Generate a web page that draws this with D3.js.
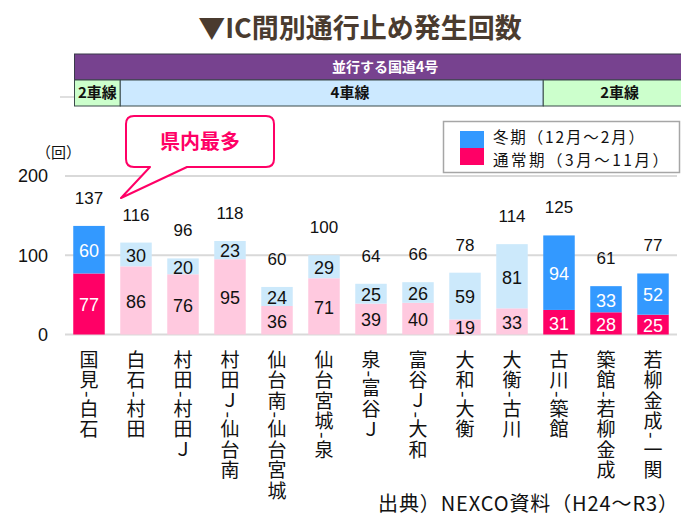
<!DOCTYPE html>
<html>
<head>
<meta charset="utf-8">
<script src="https://cdn.jsdelivr.net/npm/d3@7"></script>
<style>
  body { margin: 0; background: #fff; }
  svg { display: block; }
</style>
</head>
<body>
<div id="chart"></div>
<script>
// data
const categories = [
  "国見-白石", "白石-村田", "村田-村田Ｊ", "村田Ｊ-仙台南", "仙台南-仙台宮城",
  "仙台宮城-泉", "泉-富谷Ｊ", "富谷Ｊ-大和", "大和-大衡", "大衡-古川",
  "古川-築館", "築館-若柳金成", "若柳金成-一関"
];
const winter = [60, 30, 20, 23, 24, 29, 25, 26, 59, 81, 94, 33, 52];
const normal = [77, 86, 76, 95, 36, 71, 39, 40, 19, 33, 31, 28, 25];
const highlighted = [true, false, false, false, false, false, false, false, false, false, true, true, true];
const yTicks = [0, 100, 200];
const seriesNames = ["冬期（12月～2月）", "通常期（3月～11月）"];
// lane header: [label, first category index, last category index]
const laneSegments = [["2車線", 0, 0], ["4車線", 1, 9], ["2車線", 10, 12]];

const W = 681, H = 521;
const COLORS = {
  winter: "#3399ff", normal: "#ff0066",
  winterLight: "#cce9fb", normalLight: "#ffc9df"
};

const svg = d3.select("#chart").append("svg")
  .attr("width", W).attr("height", H)
  .attr("font-family", "'Liberation Sans', Arial, sans-serif");

const rows = categories.map((c, i) => ({
  name: c, winter: winter[i], normal: normal[i],
  total: winter[i] + normal[i], hi: highlighted[i]
}));

const x = d3.scaleBand().domain(categories).range([65.5, 676.5])
  .paddingInner(0.33).paddingOuter(0.165);
const y = d3.scaleLinear().domain([0, 200]).range([334.5, 176]);

// title
svg.append("text")
  .attr("x", 360).attr("y", 38)
  .attr("text-anchor", "middle")
  .attr("font-family", "'Noto Sans CJK JP', sans-serif")
  .attr("font-weight", "bold")
  .attr("font-size", 27)
  .attr("fill", "#4a3b2f")
  .text("▼IC間別通行止め発生回数");

// header table (runs past the right edge like the source)
const tableLeft = 74.5, tableRight = 696;
const head = svg.append("g").attr("class", "header");
head.append("line").attr("x1", 60).attr("x2", tableLeft)
  .attr("y1", 97).attr("y2", 97).attr("stroke", "#bfbfbf");
head.append("rect")
  .attr("x", tableLeft).attr("y", 54)
  .attr("width", tableRight - tableLeft).attr("height", 26)
  .attr("fill", "#77428f").attr("stroke", "#3a3a4a").attr("stroke-width", 1);
head.append("text")
  .attr("x", (tableLeft + tableRight) / 2).attr("y", 67)
  .attr("dy", "0.35em").attr("text-anchor", "middle")
  .attr("font-family", "'Noto Sans CJK JP', sans-serif")
  .attr("font-weight", "bold").attr("font-size", 14).attr("fill", "#fff")
  .text("並行する国道4号");

// lane cells: boundaries sit at the left edge of a segment's first bar
const laneEdges = laneSegments.map(([label, a, b], i) => ({
  label,
  x0: i === 0 ? tableLeft : x(categories[a]),
  x1: i === laneSegments.length - 1 ? tableRight : x(categories[b + 1]),
  fill: label === "4車線" ? "#cce9ff" : "#ccffcc"
}));

head.selectAll("g.lane").data(laneEdges).join("g").attr("class", "lane")
  .call(g => g.append("rect")
    .attr("x", d => d.x0).attr("y", 80)
    .attr("width", d => d.x1 - d.x0).attr("height", 26)
    .attr("fill", d => d.fill).attr("stroke", "#3a4a4a").attr("stroke-width", 1))
  .call(g => g.append("text")
    .attr("x", (d, i) => i === 1 ? 350 : (d.x0 + d.x1) / 2)
    .attr("y", 93).attr("dy", "0.35em")
    .attr("text-anchor", "middle")
    .attr("font-family", "'Noto Sans CJK JP', sans-serif")
    .attr("font-weight", "bold").attr("font-size", 15).attr("fill", "#111")
    .text(d => d.label));

// gridlines + y axis labels
svg.append("g").selectAll("line").data(yTicks).join("line")
  .attr("x1", 65).attr("x2", 677)
  .attr("y1", d => y(d)).attr("y2", d => y(d))
  .attr("stroke", "#d9d9d9").attr("stroke-width", 2);
svg.append("g").selectAll("text").data(yTicks).join("text")
  .attr("x", 48).attr("y", d => y(d)).attr("dy", "0.35em")
  .attr("text-anchor", "end").attr("font-size", 18).attr("fill", "#111")
  .text(d => d);
svg.append("text")
  .attr("x", 36).attr("y", 153).attr("dy", "0.35em")
  .attr("font-family", "'Noto Sans CJK JP', sans-serif")
  .attr("font-size", 15).attr("fill", "#111")
  .text("（回）");

// stacked bars
const bars = svg.append("g").selectAll("g").data(rows).join("g")
  .attr("transform", d => `translate(${x(d.name)},0)`);
bars.append("rect")
  .attr("width", x.bandwidth())
  .attr("y", d => y(d.normal)).attr("height", d => y(0) - y(d.normal))
  .attr("fill", d => d.hi ? COLORS.normal : COLORS.normalLight);
bars.append("rect")
  .attr("width", x.bandwidth())
  .attr("y", d => y(d.total)).attr("height", d => y(d.normal) - y(d.total))
  .attr("fill", d => d.hi ? COLORS.winter : COLORS.winterLight);
bars.append("text")
  .attr("x", x.bandwidth() / 2).attr("y", d => (y(0) + y(d.normal)) / 2 + 1)
  .attr("dy", "0.35em").attr("text-anchor", "middle").attr("font-size", 18)
  .attr("fill", d => d.hi ? "#fff" : "#111")
  .text(d => d.normal);
bars.append("text")
  .attr("x", x.bandwidth() / 2).attr("y", d => (y(d.normal) + y(d.total)) / 2 + 1)
  .attr("dy", "0.35em").attr("text-anchor", "middle").attr("font-size", 18)
  .attr("fill", d => d.hi ? "#fff" : "#111")
  .text(d => d.winter);
bars.append("text")
  .attr("x", x.bandwidth() / 2).attr("y", d => y(d.total) - 28)
  .attr("dy", "0.35em").attr("text-anchor", "middle").attr("font-size", 17)
  .attr("fill", "#111")
  .text(d => d.total);

// vertical category labels
svg.append("g").selectAll("text").data(categories).join("text")
  .attr("x", d => x(d) + x.bandwidth() / 2)
  .attr("y", 350)
  .style("writing-mode", "vertical-rl")
  .attr("font-family", "'Noto Sans CJK JP', sans-serif")
  .attr("font-size", 19).attr("letter-spacing", 1.5)
  .attr("fill", "#111")
  .text(d => d);

// callout
const callout = svg.append("g");
callout.append("path")
  .attr("d", "M134,116 H266 Q274,116 274,124 V159 Q274,167 266,167 H187 L121,198 L150,167 H134 Q126,167 126,159 V124 Q126,116 134,116 Z")
  .attr("fill", "#fff").attr("stroke", COLORS.normal).attr("stroke-width", 2)
  .attr("stroke-linejoin", "round");
callout.append("text")
  .attr("x", 200).attr("y", 142).attr("dy", "0.35em").attr("text-anchor", "middle")
  .attr("font-family", "'Noto Sans CJK JP', sans-serif")
  .attr("font-weight", "bold").attr("font-size", 20).attr("fill", COLORS.normal)
  .text("県内最多");

// legend
const legend = svg.append("g");
legend.append("rect")
  .attr("x", 443.5).attr("y", 121.5).attr("width", 236).attr("height", 51)
  .attr("fill", "#fff").attr("stroke", "#a6a6a6").attr("stroke-width", 1.5);
legend.selectAll("rect.sw").data([COLORS.winter, COLORS.normal]).join("rect")
  .attr("class", "sw")
  .attr("x", 460).attr("y", (d, i) => 131 + i * 17)
  .attr("width", 24).attr("height", 17).attr("fill", d => d);
legend.selectAll("text").data(seriesNames).join("text")
  .attr("x", 493).attr("y", (d, i) => 137.5 + i * 23).attr("dy", "0.35em")
  .attr("font-family", "'Noto Sans CJK JP', sans-serif")
  .attr("font-size", 15.5).attr("fill", "#111")
  .attr("textLength", (d, i) => [151, 175][i])
  .attr("lengthAdjust", "spacing")
  .text(d => d);

// source
svg.append("text")
  .attr("x", 678).attr("y", 504).attr("dy", "0.35em").attr("text-anchor", "end")
  .attr("font-family", "'Noto Sans CJK JP', sans-serif")
  .attr("font-size", 20).attr("fill", "#111")
  .attr("textLength", 300).attr("lengthAdjust", "spacing")
  .text("出典）NEXCO資料（H24～R3）");
</script>
</body>
</html>
